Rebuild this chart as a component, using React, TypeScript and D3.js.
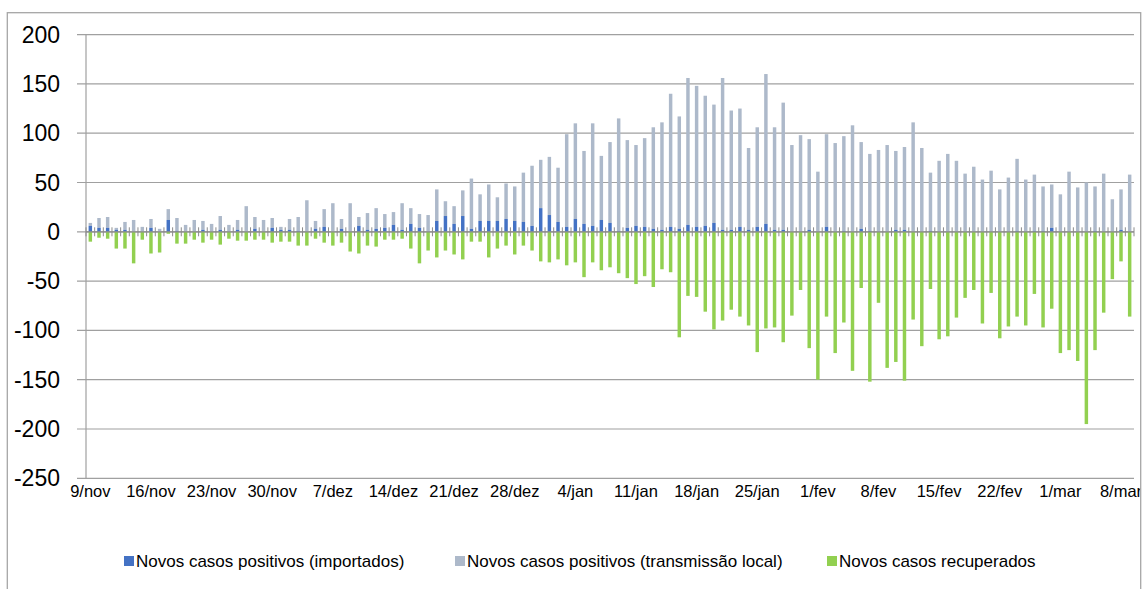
import React from "react";
import * as d3 from "d3";

// Daily values, 9/nov .. 9/mar (121 days)
const imported = [
  6, 4, 4, 2, 2, 0, 0, 4, 0, 12, 1, 0, 0, 2, 0, 2, 0, 2, 0, 3,
  0, 4, 2, 2, 1, 0, 3, 5, 0, 3, 0, 6, 2, 3, 4, 7, 2, 8, 4, 0,
  11, 16, 8, 16, 3, 11, 11, 11, 13, 11, 10, 6, 24, 17, 10, 5, 13, 8, 6, 12,
  9, 1, 4, 6, 5, 3, 2, 5, 3, 7, 5, 6, 9, 2, 2, 5, 2, 5, 8, 2,
  2, 0, 0, 2, 0, 5, 0, 1, 0, 3, 1, 0, 0, 2, 2, 0, 0, 1, 0, 0,
  0, 0, 0, 0, 0, 0, 0, 1, 0, 1, 1, 4, 0, 0, 0, 0, 1, 0, 0, 2,
  0,
];
const totalPositive = [
  9, 14, 15, 4, 10, 12, 5, 13, 3, 23, 14, 7, 12, 11, 8, 16, 7, 12, 26, 15,
  12, 14, 5, 13, 15, 32, 11, 23, 29, 13, 29, 15, 19, 24, 18, 20, 29, 24, 18, 17,
  43, 31, 26, 42, 54, 38, 48, 35, 49, 46, 60, 67, 73, 76, 65, 99, 110, 82, 110, 77,
  91, 115, 93, 88, 95, 106, 111, 140, 117, 156, 148, 138, 129, 156, 123, 125, 85, 106, 160, 106,
  131, 88, 98, 94, 61, 99, 90, 97, 108, 91, 79, 83, 88, 82, 86, 111, 85, 60, 72, 79,
  72, 59, 66, 53, 62, 43, 55, 74, 53, 58, 46, 48, 38, 61, 45, 50, 46, 59, 33, 43,
  58,
];
const localTransmission = totalPositive.map((t, i) => t - imported[i]);
const recovered = [
  -10, -6, -7, -17, -17, -32, -8, -22, -21, -2, -12, -12, -8, -11, -8, -13, -7, -9, -9, -8,
  -8, -11, -10, -10, -14, -14, -7, -11, -14, -11, -20, -22, -14, -15, -8, -8, -7, -17, -32, -19,
  -26, -19, -23, -28, -10, -10, -26, -17, -14, -23, -14, -19, -30, -31, -28, -34, -31, -46, -31, -39,
  -36, -42, -47, -53, -45, -56, -38, -41, -107, -65, -66, -81, -99, -90, -79, -86, -95, -122, -98, -97,
  -112, -85, -59, -118, -150, -86, -123, -92, -141, -57, -152, -72, -138, -132, -151, -89, -116, -58, -109, -106,
  -87, -67, -59, -93, -62, -108, -96, -86, -95, -63, -97, -78, -123, -120, -131, -195, -120, -82, -48, -30,
  -86,
];

const tickLabels = [
  "9/nov", "16/nov", "23/nov", "30/nov", "7/dez", "14/dez", "21/dez", "28/dez", "4/jan",
  "11/jan", "18/jan", "25/jan", "1/fev", "8/fev", "15/fev", "22/fev", "1/mar", "8/mar",
];
const yTicks = [200, 150, 100, 50, 0, -50, -100, -150, -200, -250];

const seriesNames = [
  "Novos casos positivos (importados)",
  "Novos casos positivos (transmissão local)",
  "Novos casos recuperados",
];
const colors = ["#4472C4", "#ADB9CA", "#92D050"];

export default function App() {
  const W = 1145;
  const H = 589;
  const left = 86;
  const right = 1134;
  const n = totalPositive.length;
  const idx = d3.range(n);

  const x = d3.scaleBand<number>().domain(idx).range([left, right]).paddingInner(0.6).paddingOuter(0.3);
  const xb = d3.scaleBand<number>().domain(idx).range([left, right]);
  const y = d3.scaleLinear().domain([-250, 200]).range([478.3, 34.6]);
  const step = xb.bandwidth();
  const font = "'Liberation Sans', Arial, sans-serif";
  const gridColor = "#A0A0A0";
  const axisColor = "#8C8C8C";

  const legendX = [124, 455, 827];

  // stacked: imported at bottom, local transmission on top
  const stackTop = idx.map((i) => imported[i] + localTransmission[i]);

  return (
    <svg width={W} height={H} style={{ position: "absolute", left: 0, top: 0, background: "#fff" }}>
      <defs>
        <clipPath id="chartClip">
          <rect x={0} y={0} width={1140.5} height={H} />
        </clipPath>
      </defs>
      <rect x={0} y={0} width={W} height={H} fill="#fff" />
      {/* gridlines */}
      {yTicks.map((t) => (
        <line key={"g" + t} x1={left - 9} x2={right} y1={y(t)} y2={y(t)} stroke={gridColor} strokeWidth={1.2} />
      ))}
      {/* y axis */}
      <line x1={left} x2={left} y1={y(200)} y2={y(-250)} stroke={gridColor} strokeWidth={1.2} />
      {yTicks.map((t) => (
        <text key={"yl" + t} x={60} y={y(t)} dy="0.35em" textAnchor="end" fontFamily={font} fontSize={23} fill="#000">
          {t}
        </text>
      ))}
      {/* bars */}
      {idx.map((i) => (
        <g key={"b" + i}>
          <rect x={x(i)} width={x.bandwidth()} y={y(stackTop[i])} height={y(imported[i]) - y(stackTop[i])} fill={colors[1]} />
          <rect x={x(i)} width={x.bandwidth()} y={y(imported[i])} height={y(0) - y(imported[i])} fill={colors[0]} />
          <rect x={x(i)} width={x.bandwidth()} y={y(0)} height={y(recovered[i]) - y(0)} fill={colors[2]} />
        </g>
      ))}
      {/* x axis at zero */}
      <line x1={left} x2={right} y1={y(0)} y2={y(0)} stroke={axisColor} strokeWidth={1.2} />
      {d3.range(n + 1).map((k) => (
        <line key={"t" + k} x1={left + k * step} x2={left + k * step} y1={y(0) - 4.5} y2={y(0) + 4.5} stroke={axisColor} strokeWidth={1} />
      ))}
      {/* x labels */}
      <g clipPath="url(#chartClip)">
        {tickLabels.map((lab, k) => (
          <text key={"xl" + k} x={(x(k * 7) as number) + x.bandwidth() / 2} y={497} textAnchor="middle" fontFamily={font} fontSize={16.5} fill="#000">
            {lab}
          </text>
        ))}
      </g>
      {/* legend */}
      {seriesNames.map((s, k) => (
        <g key={"lg" + k}>
          <rect x={legendX[k]} y={556} width={10} height={10} fill={colors[k]} />
          <text x={legendX[k] + 12} y={561} dy="0.35em" fontFamily={font} fontSize={17} fill="#000">
            {s}
          </text>
        </g>
      ))}
      {/* chart border */}
      <rect x={7.3} y={12.7} width={1133.4} height={620} fill="none" stroke="#A6A6A6" strokeWidth={1.3} />
    </svg>
  );
}
